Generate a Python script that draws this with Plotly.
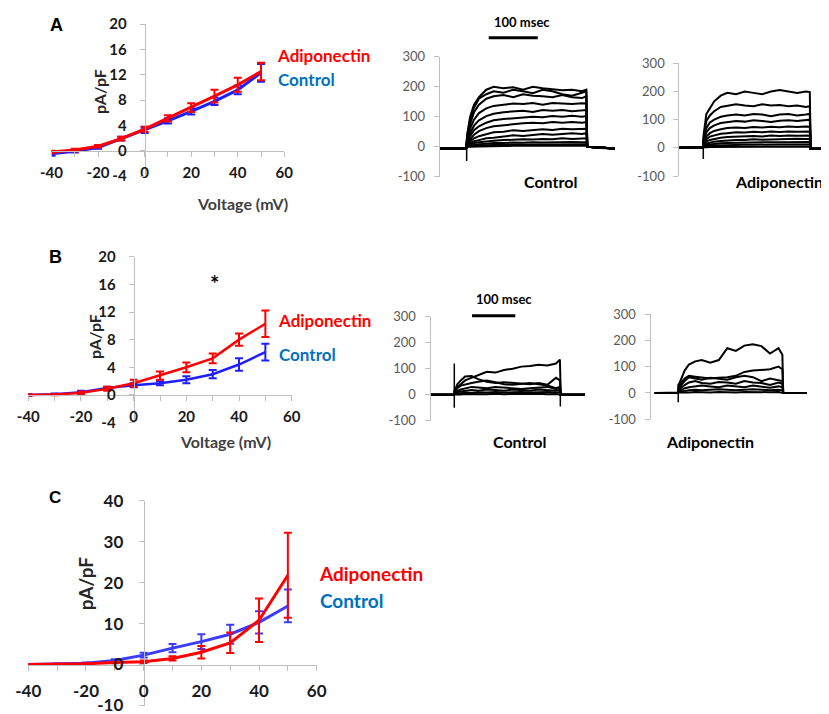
import plotly.graph_objects as go

W, H = 829, 714
OFF = 8  # the page body offsets the figure by 8 px

# ---------------- I-V data (pA/pF) ----------------
voltage = [-40, -30, -20, -10, 0, 10, 20, 30, 40, 50]

a_control = [-0.5, -0.1, 0.5, 1.9, 3.2, 4.7, 6.2, 7.8, 9.6, 12.3]
a_control_err = [0.3, 0.2, 0.2, 0.3, 0.4, 0.4, 0.5, 0.6, 0.7, 1.4]
a_adipo = [-0.2, 0.1, 0.7, 1.9, 3.4, 5.1, 6.8, 8.6, 10.4, 12.5]
a_adipo_err = [0.2, 0.2, 0.2, 0.3, 0.4, 0.5, 0.7, 1.0, 1.1, 1.4]

b_control = [0.0, 0.1, 0.4, 1.0, 1.4, 1.7, 2.2, 3.0, 4.4, 6.2]
b_control_err = [0.1, 0.1, 0.2, 0.2, 0.3, 0.3, 0.5, 0.6, 0.9, 1.2]
b_adipo = [0.0, 0.05, 0.3, 0.9, 1.7, 2.8, 4.0, 5.3, 8.0, 10.3]
b_adipo_err = [0.1, 0.1, 0.2, 0.3, 0.5, 0.6, 0.7, 0.7, 0.9, 1.9]

c_control = [0.0, 0.1, 0.3, 1.0, 2.3, 4.0, 5.6, 7.4, 10.3, 14.3]
c_control_err = [0.1, 0.1, 0.2, 0.3, 0.6, 1.0, 1.8, 2.3, 2.7, 4.0]
c_adipo = [0.0, 0.1, 0.2, 0.5, 0.7, 1.5, 3.0, 5.3, 10.8, 21.8]
c_adipo_err = [0.1, 0.1, 0.1, 0.2, 0.3, 0.5, 1.5, 2.5, 5.3, 10.4]

# ---------------- current traces (pA) vs time (ms) ----------------
t_ms = [0, 54, 56, 62, 70, 80, 95, 110, 130, 150, 170, 190, 210, 230, 250, 270, 290, 299, 301, 330, 360]

a_ctrl_traces = [
    [-5, -5, 40, 100, 140, 165, 190, 200, 195, 198, 190, 200, 195, 192, 188, 190, 185, 190, 0, -4, -6],
    [-5, -5, 35, 90, 130, 160, 175, 185, 180, 190, 185, 178, 190, 185, 175, 170, 180, 185, 0, -4, -6],
    [-5, -5, 30, 75, 115, 140, 160, 168, 172, 165, 175, 170, 168, 165, 172, 165, 162, 168, 0, -4, -6],
    [-5, -5, 25, 60, 90, 112, 128, 136, 140, 144, 142, 146, 140, 146, 144, 142, 145, 144, 0, -4, -6],
    [-5, -5, 20, 45, 70, 88, 102, 110, 115, 118, 120, 116, 122, 120, 122, 118, 121, 122, 0, -4, -6],
    [-5, -5, 15, 35, 55, 68, 80, 88, 92, 95, 98, 100, 98, 102, 100, 103, 100, 102, 0, -4, -6],
    [-5, -5, 12, 25, 40, 52, 62, 68, 72, 75, 78, 80, 78, 82, 80, 82, 80, 82, 0, -4, -6],
    [-5, -5, 10, 18, 28, 35, 42, 48, 50, 55, 52, 55, 58, 56, 60, 58, 60, 60, 0, -4, -6],
    [-5, -5, 6, 12, 18, 22, 28, 30, 35, 38, 36, 40, 42, 40, 42, 45, 42, 45, 0, -4, -6],
    [-5, -5, 4, 8, 12, 15, 18, 20, 22, 24, 25, 24, 26, 25, 28, 26, 28, 28, 0, -4, -6],
    [-5, -5, 2, 4, 6, 8, 10, 12, 12, 14, 13, 15, 14, 15, 14, 16, 15, 15, 0, -4, -6],
    [-5, -5, 1, 2, 3, 4, 5, 6, 6, 7, 6, 8, 7, 8, 7, 8, 7, 8, 0, -4, -6],
    [-5, -5, 0, 0, 1, 1, 2, 2, 2, 3, 2, 3, 3, 2, 3, 3, 2, 3, 0, -4, -6],
]
a_ctrl_spike_t = [55, 55]
a_ctrl_spike_i = [0, -48]

a_adipo_traces = [
    [0, 0, 50, 120, 140, 165, 185, 195, 190, 200, 195, 190, 200, 205, 200, 195, 200, 198, -3, -4, -3],
    [0, 0, 40, 95, 115, 130, 145, 150, 155, 150, 148, 155, 150, 152, 148, 150, 145, 148, -3, -4, -3],
    [0, 0, 30, 70, 90, 100, 110, 115, 118, 115, 120, 118, 112, 118, 120, 115, 118, 120, -3, -4, -3],
    [0, 0, 25, 55, 70, 80, 88, 92, 95, 93, 98, 95, 92, 96, 98, 95, 100, 100, -3, -4, -3],
    [0, 0, 20, 40, 52, 60, 66, 70, 72, 70, 74, 72, 75, 73, 76, 74, 76, 75, -3, -4, -3],
    [0, 0, 15, 30, 40, 45, 50, 52, 55, 54, 57, 55, 58, 56, 58, 57, 58, 58, -3, -4, -3],
    [0, 0, 12, 22, 28, 32, 36, 38, 40, 41, 42, 40, 44, 42, 44, 43, 44, 44, -3, -4, -3],
    [0, 0, 8, 15, 18, 22, 24, 26, 28, 28, 30, 29, 30, 31, 30, 32, 31, 32, -3, -4, -3],
    [0, 0, 5, 10, 12, 14, 16, 17, 18, 18, 20, 19, 20, 20, 21, 20, 21, 21, -3, -4, -3],
    [0, 0, 3, 5, 7, 8, 9, 10, 10, 11, 11, 12, 11, 12, 12, 11, 12, 12, -3, -4, -3],
    [0, 0, 1, 2, 3, 3, 4, 4, 5, 4, 5, 5, 4, 5, 5, 5, 4, 5, -3, -4, -3],
]
a_adipo_spike_t = [55, 55]
a_adipo_spike_i = [0, -40]

b_ctrl_traces = [
    [0, 0, 20, 30, 40, 55, 65, 75, 88, 85, 95, 100, 108, 110, 115, 112, 120, 135, 0, 0, 0],
    [0, 0, 15, 40, 55, 70, 72, 60, 50, 45, 48, 45, 42, 40, 45, 38, 65, 55, 0, 0, 0],
    [0, 0, 10, 25, 35, 40, 45, 50, 55, 48, 40, 38, 42, 45, 40, 35, 25, 30, 0, 0, 0],
    [0, 0, 8, 15, 20, 25, 30, 28, 25, 30, 28, 25, 22, 25, 28, 30, 22, 25, 0, 0, 0],
    [0, 0, 5, 10, 12, 15, 18, 15, 20, 18, 15, 20, 18, 15, 20, 18, 15, 18, 0, 0, 0],
    [0, 0, 3, 5, 6, 8, 7, 9, 8, 10, 8, 9, 10, 8, 9, 10, 8, 10, 0, 0, 0],
    [0, 0, 0, 2, 1, 3, 2, 3, 2, 4, 2, 3, 2, 3, 4, 2, 3, 2, 0, 0, 0],
]
b_ctrl_spike_on_t = [55, 55]
b_ctrl_spike_on_i = [120, -50]
b_ctrl_spike_off_t = [300, 300]
b_ctrl_spike_off_i = [0, -45]

b_adipo_traces = [
    [0, 0, 30, 55, 85, 108, 120, 125, 115, 125, 170, 160, 180, 185, 178, 150, 170, 145, 0, 0, 0],
    [0, 0, 15, 40, 55, 65, 62, 60, 55, 58, 60, 65, 80, 85, 88, 90, 100, 90, 0, 0, 0],
    [0, 0, 10, 30, 45, 60, 55, 50, 58, 55, 50, 60, 65, 60, 45, 55, 50, 45, 0, 0, 0],
    [0, 0, 8, 20, 30, 40, 45, 38, 35, 42, 40, 35, 45, 40, 38, 30, 40, 35, 0, 0, 0],
    [0, 0, 5, 12, 18, 22, 25, 28, 25, 22, 28, 25, 22, 28, 25, 20, 25, 22, 0, 0, 0],
    [0, 0, 3, 6, 8, 10, 12, 10, 12, 14, 12, 10, 12, 14, 12, 10, 12, 10, 0, 0, 0],
    [0, 0, 0, 2, 3, 2, 4, 3, 2, 4, 3, 2, 4, 3, 2, 3, 4, 2, 0, 0, 0],
]
b_adipo_spike_t = [55, 55]
b_adipo_spike_i = [35, -35]

scale_bar_ms = 100
iv_ticks_x = [-40, -30, -20, -10, 0, 10, 20, 30, 40, 50, 60]
iv_ticktext_x = ["-40", "", "-20", "", "0", "", "20", "", "40", "", "60"]
ab_ticks_y = [-4, 0, 4, 8, 12, 16, 20]
c_ticks_y = [-10, 0, 10, 20, 30, 40]
trace_ticks_y = [-100, 0, 100, 200, 300]

# ---------------- styles ----------------
RED = "#FF0000"
BLUE = "#1E1EFF"
BLUE_C = "#3C3CFF"
LABEL_BLUE = "#0070C0"
AXC = "#BFBFBF"
FONT = "Lato"


def PX(x):
    return (x - OFF) / W


def PY(y):
    return 1 - (y - OFF) / H


fig = go.Figure()


def iv_panel(n, ctrl, ctrl_err, adipo, adipo_err, blue, lw):
    xa = "x" if n == 1 else f"x{n}"
    ya = "y" if n == 1 else f"y{n}"
    fig.add_trace(go.Scatter(x=voltage, y=ctrl, mode="lines", xaxis=xa, yaxis=ya,
                             line=dict(color=blue, width=lw),
                             error_y=dict(type="data", array=ctrl_err, color=blue, thickness=2, width=4),
                             showlegend=False))
    fig.add_trace(go.Scatter(x=voltage, y=adipo, mode="lines", xaxis=xa, yaxis=ya,
                             line=dict(color=RED, width=lw),
                             error_y=dict(type="data", array=adipo_err, color=RED, thickness=2, width=4),
                             showlegend=False))


def trace_panel(n, traces, spikes):
    xa = f"x{n}"
    ya = f"y{n}"
    for tr in traces:
        fig.add_trace(go.Scatter(x=t_ms, y=tr, mode="lines", xaxis=xa, yaxis=ya,
                                 line=dict(color="black", width=2), showlegend=False))
    for st, si in spikes:
        fig.add_trace(go.Scatter(x=st, y=si, mode="lines", xaxis=xa, yaxis=ya,
                                 line=dict(color="black", width=1.5), showlegend=False))


iv_panel(1, a_control, a_control_err, a_adipo, a_adipo_err, BLUE, 3)
trace_panel(2, a_ctrl_traces, [(a_ctrl_spike_t, a_ctrl_spike_i)])
trace_panel(3, a_adipo_traces, [(a_adipo_spike_t, a_adipo_spike_i)])
iv_panel(4, b_control, b_control_err, b_adipo, b_adipo_err, BLUE, 2.5)
trace_panel(5, b_ctrl_traces, [(b_ctrl_spike_on_t, b_ctrl_spike_on_i), (b_ctrl_spike_off_t, b_ctrl_spike_off_i)])
trace_panel(6, b_adipo_traces, [(b_adipo_spike_t, b_adipo_spike_i)])
iv_panel(7, c_control, c_control_err, c_adipo, c_adipo_err, BLUE_C, 3)

layout = dict(width=W, height=H, margin=dict(l=0, r=0, t=0, b=0, pad=0, autoexpand=False),
              paper_bgcolor="white", plot_bgcolor="rgba(0,0,0,0)", showlegend=False)


def iv_axes(n, xdom, ydom, yr, yticks, fs, standoff_x, standoff_y):
    xk = "xaxis" if n == 1 else f"xaxis{n}"
    yk = "yaxis" if n == 1 else f"yaxis{n}"
    xr = [-40, 60]
    xd = [PX(xdom[0]), PX(xdom[1])]
    yd = [PY(ydom[0]), PY(ydom[1])]
    xpos = yd[0] + (0 - yr[0]) / (yr[1] - yr[0]) * (yd[1] - yd[0])
    ypos = xd[0] + (0 - xr[0]) / (xr[1] - xr[0]) * (xd[1] - xd[0])
    tf = dict(family=FONT, size=fs, color="#1A1A1A", weight="bold")
    layout[xk] = dict(domain=xd, range=xr, anchor="free", position=xpos,
                      showline=True, linecolor=AXC, linewidth=1, showgrid=False, zeroline=False,
                      ticks="outside", ticklen=5, tickcolor=AXC, tickvals=iv_ticks_x,
                      ticktext=iv_ticktext_x, tickfont=tf, ticklabelstandoff=standoff_x)
    layout[yk] = dict(domain=yd, range=yr, anchor="free", position=ypos,
                      showline=True, linecolor=AXC, linewidth=1, showgrid=False, zeroline=False,
                      ticks="outside", ticklen=5, tickcolor=AXC, tickvals=yticks,
                      ticktext=[str(v) for v in yticks], tickfont=tf, ticklabelstandoff=standoff_y)


def trace_axes(n, xdom, ydom, xr):
    layout[f"xaxis{n}"] = dict(domain=[PX(xdom[0]), PX(xdom[1])], range=xr, visible=False,
                               anchor=f"y{n}")
    layout[f"yaxis{n}"] = dict(domain=[PY(ydom[0]), PY(ydom[1])], range=[-100, 300], anchor=f"x{n}",
                               showline=True, linecolor=AXC, linewidth=1, showgrid=False, zeroline=False,
                               ticks="outside", ticklen=5, tickcolor=AXC, tickvals=trace_ticks_y,
                               ticktext=[str(v) for v in trace_ticks_y],
                               tickfont=dict(family=FONT, size=13, color="#595959"), ticklabelstandoff=6)


iv_axes(1, [51.5, 284.3], [176, 24], [-4, 20], ab_ticks_y, 15, 3, 10)
iv_axes(4, [28.3, 291.7], [422.6, 256.7], [-4, 20], ab_ticks_y, 15, 3, 10)
iv_axes(7, [28.3, 316.7], [705.5, 500.7], [-10, 40], c_ticks_y, 17, 6, 12)
trace_axes(2, [439.7, 615], [176.7, 56.7], [0, 357.5])
trace_axes(3, [679.3, 829], [176, 63.3], [0, 343])
trace_axes(5, [430.5, 585], [420.7, 316.7], [0, 357])
trace_axes(6, [650.5, 806.7], [419.3, 314], [-10, 356])

fig.update_layout(**layout)

ann = []


def txt(text, x, y, size, color="black", family=FONT, xanchor="center", angle=0, bold=True):
    ann.append(dict(text=text, x=PX(x), y=PY(y), xref="paper", yref="paper", showarrow=False,
                    xanchor=xanchor, yanchor="middle", textangle=angle,
                    font=dict(family=family, size=size, color=color, weight="bold" if bold else "normal")))


ARIAL = "Liberation Sans"
# Panel A
txt("A", 56, 25, 18, family=ARIAL)
txt("pA/pF", 99.3, 91.7, 16, color="#262626", angle=-90)
txt("Voltage (mV)", 242.7, 203.3, 16, color="#404040")
txt("Adiponectin", 275, 56, 17, color=RED, xanchor="left")
txt("Control", 276, 79.3, 17, color=LABEL_BLUE, xanchor="left")
txt("100 msec", 521.7, 22, 13)
txt("Control", 550, 181.7, 16)
txt("Adiponectin", 733, 181.7, 16, xanchor="left")
# Panel B
txt("B", 55, 256.7, 18, family=ARIAL)
txt("*", 214.3, 284, 22)
txt("pA/pF", 94.3, 336.7, 16, color="#262626", angle=-90)
txt("Voltage (mV)", 225, 441.7, 16, color="#404040")
txt("Adiponectin", 276, 320, 17, color=RED, xanchor="left")
txt("Control", 276.7, 354.3, 17, color=LABEL_BLUE, xanchor="left")
txt("100 msec", 504, 299.3, 13)
txt("Control", 520, 442, 16)
txt("Adiponectin", 710, 442, 16)
# Panel C
txt("C", 55, 497.3, 17, family=ARIAL)
txt("pA/pF", 85, 583.3, 19, color="#262626", angle=-90)
txt("Adiponectin", 316.7, 573.3, 19, color=RED, xanchor="left")
txt("Control", 318, 600.7, 19, color=LABEL_BLUE, xanchor="left")

fig.update_layout(annotations=ann)

# 100 msec scale bars (time axis of the trace panels)
fig.add_shape(type="line", xref="x2", yref="paper", x0=100, x1=100 + scale_bar_ms,
              y0=PY(37.7), y1=PY(37.7), line=dict(color="black", width=3))
fig.add_shape(type="line", xref="x5", yref="paper", x0=96, x1=96 + scale_bar_ms,
              y0=PY(315.7), y1=PY(315.7), line=dict(color="black", width=3))

fig.write_html("out.html")
